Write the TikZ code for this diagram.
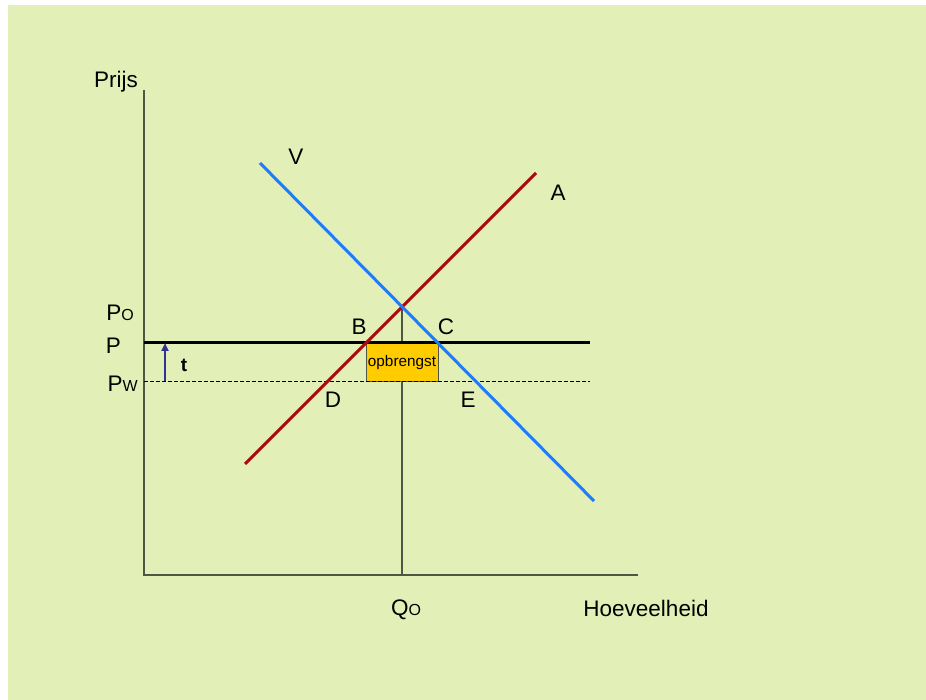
\documentclass[tikz,border=0pt]{standalone}
\usepackage{fontspec}
\setmainfont{Liberation Sans}
\usetikzlibrary{arrows.meta}
\definecolor{bg}{RGB}{226,239,182}
\definecolor{vblue}{RGB}{30,125,255}
\definecolor{ared}{RGB}{170,10,10}
\definecolor{axisc}{RGB}{80,85,70}
\definecolor{boxc}{RGB}{255,204,0}
\definecolor{tarrow}{RGB}{50,50,150}
\newcommand{\subsz}{\fontsize{16}{18}\selectfont}
\begin{document}
\begin{tikzpicture}[x=1pt,y=-1pt,
  lbl/.style={inner sep=0pt,font=\fontsize{22.5}{24}\selectfont},
  axisline/.style={draw=axisc,line width=1.1pt},
  vline/.style={draw=vblue,line width=3pt},
  aline/.style={draw=ared,line width=3pt},
  pline/.style={draw=black,line width=3pt},
  pwline/.style={draw=black,line width=0.9pt,dash pattern=on 3.5pt off 2.5pt},
  boxstyle/.style={draw=axisc,line width=0.9pt,fill=boxc}]
\useasboundingbox (0,0) rectangle (926,700);
\fill[bg] (8,5) rectangle (926,700);
% coordinates
\coordinate (O) at (144,575);
\coordinate (Ytop) at (144,90);
\coordinate (Xend) at (638,575);
\coordinate (V1) at (260,163);
\coordinate (V2) at (594,501);
\coordinate (A1) at (245,464);
\coordinate (A2) at (536,173);
\coordinate (Eq) at (402,307);
\coordinate (Qb) at (402,575);
\coordinate (PL) at (144,343);
\coordinate (PR) at (590,343);
\coordinate (WL) at (144,381);
\coordinate (WR) at (590,381);
\coordinate (Tb) at (165,381);
\coordinate (Tt) at (165,343);
% axes
\draw[axisline] (Ytop) -- (O) -- (Xend);
\draw[axisline] (Eq) -- (Qb);
% box
\path[boxstyle] (366,343) rectangle (438,381);
\node[inner sep=0pt,font=\fontsize{15.3}{17}\selectfont] (opb) at (402,363) {opbrengst};
% P lines
\draw[pwline] (WL) -- (WR);
\draw[pline] (PL) -- (PR);
% curves
\draw[aline] (A1) -- (A2);
\draw[vline] (V1) -- (V2);
% t arrow
\draw[tarrow,line width=2.2pt,-{Triangle[length=8pt,width=7pt]}] (Tb) -- (Tt);
% labels
\node[lbl] (prijs) at (116,82) {Prijs};
\node[lbl] (hoev) at (646,608) {Hoeveelheid};
\node[lbl] (Vl) at (296,157) {V};
\node[lbl] (Al) at (558,193) {A};
\node[lbl,anchor=east] (Po) at (134,313) {P{\subsz O}};
\node[lbl,anchor=east] (Pl) at (121,346) {P};
\node[lbl,anchor=east] (Pw) at (138,384) {P{\subsz W}};
\node[lbl] (Bl) at (359,327) {B};
\node[lbl] (Cl) at (446,327) {C};
\node[lbl] (Dl) at (333,400) {D};
\node[lbl] (El) at (468,400) {E};
\node[lbl,font=\fontsize{19}{21}\selectfont\bfseries] (tl) at (184,365) {t};
\node[lbl] (Qo) at (406,610) {Q{\subsz O}};
\end{tikzpicture}
\end{document}
